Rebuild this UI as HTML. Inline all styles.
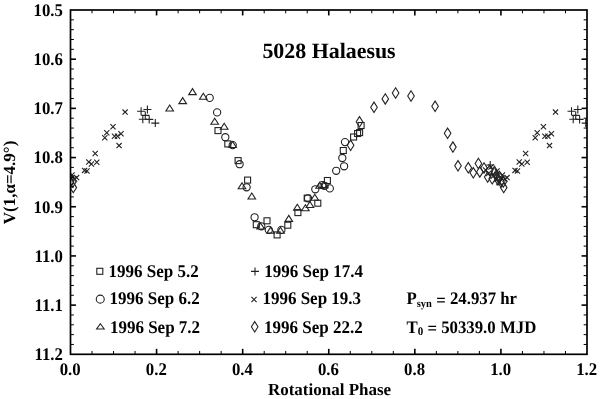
<!DOCTYPE html>
<html><head><meta charset="utf-8"><style>
html,body{margin:0;padding:0;background:#fff;}
body{width:600px;height:399px;overflow:hidden;}
svg{display:block;will-change:transform;}
text{font-family:"Liberation Serif",serif;font-weight:bold;fill:#000;text-rendering:geometricPrecision;}
</style></head><body>
<svg width="600" height="399" viewBox="0 0 600 399">
<rect width="600" height="399" fill="#fff"/>
<defs><clipPath id="cp"><rect x="70.5" y="10.0" width="516.5" height="344.3"/></clipPath></defs>
<g clip-path="url(#cp)" fill="none" stroke="#222" stroke-width="1.1">
<path d="M72.00 176.40L77.20 181.60M72.00 181.60L77.20 176.40"/>
<path d="M502.42 176.40L507.62 181.60M502.42 181.60L507.62 176.40"/>
<path d="M74.00 175.00L79.20 180.20M74.00 180.20L79.20 175.00"/>
<path d="M504.42 175.00L509.62 180.20M504.42 180.20L509.62 175.00"/>
<path d="M69.40 172.40L74.60 177.60M69.40 177.60L74.60 172.40"/>
<path d="M499.82 172.40L505.02 177.60M499.82 177.60L505.02 172.40"/>
<path d="M72.80 176.80L76.10 182.00L72.80 187.20L69.50 182.00Z"/>
<path d="M503.22 176.80L506.52 182.00L503.22 187.20L499.92 182.00Z"/>
<path d="M73.30 182.40L76.60 187.60L73.30 192.80L70.00 187.60Z"/>
<path d="M503.72 182.40L507.02 187.60L503.72 192.80L500.42 187.60Z"/>
<path d="M82.00 167.80L87.20 173.00M82.00 173.00L87.20 167.80"/>
<path d="M512.42 167.80L517.62 173.00M512.42 173.00L517.62 167.80"/>
<path d="M84.40 168.40L89.60 173.60M84.40 173.60L89.60 168.40"/>
<path d="M514.82 168.40L520.02 173.60M514.82 173.60L520.02 168.40"/>
<path d="M86.20 159.40L91.40 164.60M86.20 164.60L91.40 159.40"/>
<path d="M516.62 159.40L521.82 164.60M516.62 164.60L521.82 159.40"/>
<path d="M88.80 161.40L94.00 166.60M88.80 166.60L94.00 161.40"/>
<path d="M519.22 161.40L524.42 166.60M519.22 166.60L524.42 161.40"/>
<path d="M94.20 159.70L99.40 164.90M94.20 164.90L99.40 159.70"/>
<path d="M524.62 159.70L529.82 164.90M524.62 164.90L529.82 159.70"/>
<path d="M92.60 150.90L97.80 156.10M92.60 156.10L97.80 150.90"/>
<path d="M523.02 150.90L528.22 156.10M523.02 156.10L528.22 150.90"/>
<path d="M102.20 135.20L107.40 140.40M102.20 140.40L107.40 135.20"/>
<path d="M532.62 135.20L537.82 140.40M532.62 140.40L537.82 135.20"/>
<path d="M104.20 130.20L109.40 135.40M104.20 135.40L109.40 130.20"/>
<path d="M534.62 130.20L539.82 135.40M534.62 135.40L539.82 130.20"/>
<path d="M110.40 124.20L115.60 129.40M110.40 129.40L115.60 124.20"/>
<path d="M540.82 124.20L546.02 129.40M540.82 129.40L546.02 124.20"/>
<path d="M111.90 133.60L117.10 138.80M111.90 138.80L117.10 133.60"/>
<path d="M542.32 133.60L547.52 138.80M542.32 138.80L547.52 133.60"/>
<path d="M114.90 133.60L120.10 138.80M114.90 138.80L120.10 133.60"/>
<path d="M545.32 133.60L550.52 138.80M545.32 138.80L550.52 133.60"/>
<path d="M118.40 131.10L123.60 136.30M118.40 136.30L123.60 131.10"/>
<path d="M548.82 131.10L554.02 136.30M548.82 136.30L554.02 131.10"/>
<path d="M116.50 143.00L121.70 148.20M116.50 148.20L121.70 143.00"/>
<path d="M546.92 143.00L552.12 148.20M546.92 148.20L552.12 143.00"/>
<path d="M122.50 109.50L127.70 114.70M122.50 114.70L127.70 109.50"/>
<path d="M552.92 109.50L558.12 114.70M552.92 114.70L558.12 109.50"/>
<path d="M137.10 111.30H145.10M141.10 107.30V115.30"/>
<path d="M567.52 111.30H575.52M571.52 107.30V115.30"/>
<path d="M143.40 109.50H151.40M147.40 105.50V113.50"/>
<path d="M573.82 109.50H581.82M577.82 105.50V113.50"/>
<path d="M141.30 115.40H149.30M145.30 111.40V119.40"/>
<path d="M571.72 115.40H579.72M575.72 111.40V119.40"/>
<path d="M145.20 119.40H153.20M149.20 115.40V123.40"/>
<path d="M575.62 119.40H583.62M579.62 115.40V123.40"/>
<path d="M138.80 119.20H146.80M142.80 115.20V123.20"/>
<path d="M569.22 119.20H577.22M573.22 115.20V123.20"/>
<path d="M151.30 123.10H159.30M155.30 119.10V127.10"/>
<path d="M581.72 123.10H589.72M585.72 119.10V127.10"/>
<path d="M169.70 105.00L173.50 111.00L165.90 111.00Z"/>
<path d="M182.70 97.60L186.50 103.60L178.90 103.60Z"/>
<path d="M192.50 88.60L196.30 94.60L188.70 94.60Z"/>
<path d="M203.30 93.20L207.10 99.20L199.50 99.20Z"/>
<circle cx="209.70" cy="97.90" r="3.6"/>
<circle cx="217.10" cy="112.40" r="3.6"/>
<path d="M214.70 118.30L218.50 124.30L210.90 124.30Z"/>
<path d="M224.20 123.30L228.00 129.30L220.40 129.30Z"/>
<rect x="215.00" y="127.60" width="6.00" height="6.00"/>
<circle cx="225.30" cy="137.20" r="3.6"/>
<rect x="224.80" y="140.90" width="6.00" height="6.00"/>
<circle cx="232.70" cy="145.10" r="3.6"/>
<path d="M232.60 141.50L236.40 147.50L228.80 147.50Z"/>
<rect x="235.10" y="157.60" width="6.00" height="6.00"/>
<circle cx="239.60" cy="164.20" r="3.6"/>
<rect x="244.60" y="177.10" width="6.00" height="6.00"/>
<circle cx="246.60" cy="187.30" r="3.6"/>
<path d="M242.00 182.80L245.80 188.80L238.20 188.80Z"/>
<path d="M251.80 193.00L255.60 199.00L248.00 199.00Z"/>
<circle cx="254.60" cy="217.30" r="3.6"/>
<rect x="264.00" y="217.80" width="6.00" height="6.00"/>
<rect x="253.30" y="221.70" width="6.00" height="6.00"/>
<path d="M260.60 223.00L264.40 229.00L256.80 229.00Z"/>
<circle cx="261.30" cy="226.30" r="3.6"/>
<circle cx="268.80" cy="229.90" r="3.6"/>
<path d="M270.60 227.10L274.40 233.10L266.80 233.10Z"/>
<rect x="274.10" y="231.90" width="6.00" height="6.00"/>
<circle cx="281.40" cy="229.90" r="3.6"/>
<path d="M280.50 227.20L284.30 233.20L276.70 233.20Z"/>
<rect x="284.80" y="222.20" width="6.00" height="6.00"/>
<path d="M288.80 215.40L292.60 221.40L285.00 221.40Z"/>
<path d="M297.30 204.30L301.10 210.30L293.50 210.30Z"/>
<rect x="294.90" y="209.60" width="6.00" height="6.00"/>
<path d="M305.40 204.70L309.20 210.70L301.60 210.70Z"/>
<path d="M309.90 201.50L313.70 207.50L306.10 207.50Z"/>
<rect x="304.20" y="195.10" width="6.00" height="6.00"/>
<circle cx="308.00" cy="198.30" r="3.6"/>
<path d="M314.80 194.30L318.60 200.30L311.00 200.30Z"/>
<rect x="314.80" y="200.20" width="6.00" height="6.00"/>
<circle cx="315.30" cy="189.30" r="3.6"/>
<path d="M319.60 182.30L323.40 188.30L315.80 188.30Z"/>
<circle cx="322.30" cy="185.10" r="3.6"/>
<circle cx="324.60" cy="185.80" r="3.6"/>
<path d="M324.20 181.60L328.00 187.60L320.40 187.60Z"/>
<rect x="324.40" y="177.50" width="6.00" height="6.00"/>
<circle cx="329.80" cy="188.40" r="3.6"/>
<circle cx="336.20" cy="170.80" r="3.6"/>
<circle cx="344.10" cy="166.30" r="3.6"/>
<circle cx="342.30" cy="158.00" r="3.6"/>
<rect x="340.30" y="147.50" width="6.00" height="6.00"/>
<circle cx="345.00" cy="142.10" r="3.6"/>
<path d="M350.60 140.10L353.90 145.30L350.60 150.50L347.30 145.30Z"/>
<rect x="350.60" y="134.00" width="6.00" height="6.00"/>
<rect x="354.60" y="130.50" width="6.00" height="6.00"/>
<rect x="356.60" y="129.60" width="6.00" height="6.00"/>
<rect x="358.10" y="122.50" width="6.00" height="6.00"/>
<path d="M359.50 116.60L362.80 121.80L359.50 127.00L356.20 121.80Z"/>
<path d="M374.00 102.10L377.30 107.30L374.00 112.50L370.70 107.30Z"/>
<path d="M385.30 93.70L388.60 98.90L385.30 104.10L382.00 98.90Z"/>
<path d="M395.60 87.80L398.90 93.00L395.60 98.20L392.30 93.00Z"/>
<path d="M411.00 90.80L414.30 96.00L411.00 101.20L407.70 96.00Z"/>
<path d="M435.10 101.10L438.40 106.30L435.10 111.50L431.80 106.30Z"/>
<path d="M447.60 128.10L450.90 133.30L447.60 138.50L444.30 133.30Z"/>
<path d="M452.90 141.90L456.20 147.10L452.90 152.30L449.60 147.10Z"/>
<path d="M458.00 160.60L461.30 165.80L458.00 171.00L454.70 165.80Z"/>
<path d="M468.30 162.60L471.60 167.80L468.30 173.00L465.00 167.80Z"/>
<path d="M473.30 167.60L476.60 172.80L473.30 178.00L470.00 172.80Z"/>
<path d="M478.40 158.30L481.70 163.50L478.40 168.70L475.10 163.50Z"/>
<path d="M479.80 166.70L483.10 171.90L479.80 177.10L476.50 171.90Z"/>
<path d="M484.00 162.80L487.30 168.00L484.00 173.20L480.70 168.00Z"/>
<path d="M487.70 171.80L491.00 177.00L487.70 182.20L484.40 177.00Z"/>
<path d="M489.50 165.30L492.80 170.50L489.50 175.70L486.20 170.50Z"/>
<path d="M492.20 173.60L495.50 178.80L492.20 184.00L488.90 178.80Z"/>
<path d="M494.50 166.40L497.80 171.60L494.50 176.80L491.20 171.60Z"/>
<path d="M64.08 166.40L67.38 171.60L64.08 176.80L60.78 171.60Z"/>
<path d="M496.00 170.30L499.30 175.50L496.00 180.70L492.70 175.50Z"/>
<path d="M65.58 170.30L68.88 175.50L65.58 180.70L62.28 175.50Z"/>
<path d="M498.00 174.80L501.30 180.00L498.00 185.20L494.70 180.00Z"/>
<path d="M67.58 174.80L70.88 180.00L67.58 185.20L64.28 180.00Z"/>
<path d="M499.50 171.30L502.80 176.50L499.50 181.70L496.20 176.50Z"/>
<path d="M69.08 171.30L72.38 176.50L69.08 181.70L65.78 176.50Z"/>
<path d="M501.00 176.80L504.30 182.00L501.00 187.20L497.70 182.00Z"/>
<path d="M70.58 176.80L73.88 182.00L70.58 187.20L67.28 182.00Z"/>
<path d="M482.90 167.40L488.10 172.60M482.90 172.60L488.10 167.40"/>
<path d="M485.90 170.90L491.10 176.10M485.90 176.10L491.10 170.90"/>
<path d="M488.40 164.40L493.60 169.60M488.40 169.60L493.60 164.40"/>
<path d="M490.90 173.40L496.10 178.60M490.90 178.60L496.10 173.40"/>
<path d="M60.48 173.40L65.68 178.60M60.48 178.60L65.68 173.40"/>
<path d="M493.90 176.40L499.10 181.60M493.90 181.60L499.10 176.40"/>
<path d="M63.48 176.40L68.68 181.60M63.48 181.60L68.68 176.40"/>
<path d="M496.40 179.90L501.60 185.10M496.40 185.10L501.60 179.90"/>
<path d="M65.98 179.90L71.18 185.10M65.98 185.10L71.18 179.90"/>
<path d="M498.90 175.40L504.10 180.60M498.90 180.60L504.10 175.40"/>
<path d="M68.48 175.40L73.68 180.60M68.48 180.60L73.68 175.40"/>
<path d="M494.40 168.40L499.60 173.60M494.40 173.60L499.60 168.40"/>
<path d="M63.98 168.40L69.18 173.60M63.98 173.60L69.18 168.40"/>
<path d="M486.20 165.00H494.20M490.20 161.00V169.00"/>
<path d="M493.00 174.00H501.00M497.00 170.00V178.00"/>
<path d="M62.58 174.00H70.58M66.58 170.00V178.00"/>
</g>
<g stroke="#000" fill="none">
<line x1="92.02" y1="354.30" x2="92.02" y2="350.95" stroke-width="1.0"/>
<line x1="92.02" y1="10.00" x2="92.02" y2="13.35" stroke-width="1.0"/>
<line x1="113.54" y1="354.30" x2="113.54" y2="350.95" stroke-width="1.0"/>
<line x1="113.54" y1="10.00" x2="113.54" y2="13.35" stroke-width="1.0"/>
<line x1="135.06" y1="354.30" x2="135.06" y2="350.95" stroke-width="1.0"/>
<line x1="135.06" y1="10.00" x2="135.06" y2="13.35" stroke-width="1.0"/>
<line x1="156.58" y1="354.30" x2="156.58" y2="348.85" stroke-width="1.6"/>
<line x1="156.58" y1="10.00" x2="156.58" y2="15.45" stroke-width="1.6"/>
<line x1="178.10" y1="354.30" x2="178.10" y2="350.95" stroke-width="1.0"/>
<line x1="178.10" y1="10.00" x2="178.10" y2="13.35" stroke-width="1.0"/>
<line x1="199.63" y1="354.30" x2="199.63" y2="350.95" stroke-width="1.0"/>
<line x1="199.63" y1="10.00" x2="199.63" y2="13.35" stroke-width="1.0"/>
<line x1="221.15" y1="354.30" x2="221.15" y2="350.95" stroke-width="1.0"/>
<line x1="221.15" y1="10.00" x2="221.15" y2="13.35" stroke-width="1.0"/>
<line x1="242.67" y1="354.30" x2="242.67" y2="348.85" stroke-width="1.6"/>
<line x1="242.67" y1="10.00" x2="242.67" y2="15.45" stroke-width="1.6"/>
<line x1="264.19" y1="354.30" x2="264.19" y2="350.95" stroke-width="1.0"/>
<line x1="264.19" y1="10.00" x2="264.19" y2="13.35" stroke-width="1.0"/>
<line x1="285.71" y1="354.30" x2="285.71" y2="350.95" stroke-width="1.0"/>
<line x1="285.71" y1="10.00" x2="285.71" y2="13.35" stroke-width="1.0"/>
<line x1="307.23" y1="354.30" x2="307.23" y2="350.95" stroke-width="1.0"/>
<line x1="307.23" y1="10.00" x2="307.23" y2="13.35" stroke-width="1.0"/>
<line x1="328.75" y1="354.30" x2="328.75" y2="348.85" stroke-width="1.6"/>
<line x1="328.75" y1="10.00" x2="328.75" y2="15.45" stroke-width="1.6"/>
<line x1="350.27" y1="354.30" x2="350.27" y2="350.95" stroke-width="1.0"/>
<line x1="350.27" y1="10.00" x2="350.27" y2="13.35" stroke-width="1.0"/>
<line x1="371.79" y1="354.30" x2="371.79" y2="350.95" stroke-width="1.0"/>
<line x1="371.79" y1="10.00" x2="371.79" y2="13.35" stroke-width="1.0"/>
<line x1="393.31" y1="354.30" x2="393.31" y2="350.95" stroke-width="1.0"/>
<line x1="393.31" y1="10.00" x2="393.31" y2="13.35" stroke-width="1.0"/>
<line x1="414.83" y1="354.30" x2="414.83" y2="348.85" stroke-width="1.6"/>
<line x1="414.83" y1="10.00" x2="414.83" y2="15.45" stroke-width="1.6"/>
<line x1="436.35" y1="354.30" x2="436.35" y2="350.95" stroke-width="1.0"/>
<line x1="436.35" y1="10.00" x2="436.35" y2="13.35" stroke-width="1.0"/>
<line x1="457.88" y1="354.30" x2="457.88" y2="350.95" stroke-width="1.0"/>
<line x1="457.88" y1="10.00" x2="457.88" y2="13.35" stroke-width="1.0"/>
<line x1="479.40" y1="354.30" x2="479.40" y2="350.95" stroke-width="1.0"/>
<line x1="479.40" y1="10.00" x2="479.40" y2="13.35" stroke-width="1.0"/>
<line x1="500.92" y1="354.30" x2="500.92" y2="348.85" stroke-width="1.6"/>
<line x1="500.92" y1="10.00" x2="500.92" y2="15.45" stroke-width="1.6"/>
<line x1="522.44" y1="354.30" x2="522.44" y2="350.95" stroke-width="1.0"/>
<line x1="522.44" y1="10.00" x2="522.44" y2="13.35" stroke-width="1.0"/>
<line x1="543.96" y1="354.30" x2="543.96" y2="350.95" stroke-width="1.0"/>
<line x1="543.96" y1="10.00" x2="543.96" y2="13.35" stroke-width="1.0"/>
<line x1="565.48" y1="354.30" x2="565.48" y2="350.95" stroke-width="1.0"/>
<line x1="565.48" y1="10.00" x2="565.48" y2="13.35" stroke-width="1.0"/>
<line x1="70.50" y1="19.84" x2="73.85" y2="19.84" stroke-width="1.0"/>
<line x1="587.00" y1="19.84" x2="583.65" y2="19.84" stroke-width="1.0"/>
<line x1="70.50" y1="29.67" x2="73.85" y2="29.67" stroke-width="1.0"/>
<line x1="587.00" y1="29.67" x2="583.65" y2="29.67" stroke-width="1.0"/>
<line x1="70.50" y1="39.51" x2="73.85" y2="39.51" stroke-width="1.0"/>
<line x1="587.00" y1="39.51" x2="583.65" y2="39.51" stroke-width="1.0"/>
<line x1="70.50" y1="49.35" x2="73.85" y2="49.35" stroke-width="1.0"/>
<line x1="587.00" y1="49.35" x2="583.65" y2="49.35" stroke-width="1.0"/>
<line x1="70.50" y1="59.19" x2="75.95" y2="59.19" stroke-width="1.6"/>
<line x1="587.00" y1="59.19" x2="581.55" y2="59.19" stroke-width="1.6"/>
<line x1="70.50" y1="69.02" x2="73.85" y2="69.02" stroke-width="1.0"/>
<line x1="587.00" y1="69.02" x2="583.65" y2="69.02" stroke-width="1.0"/>
<line x1="70.50" y1="78.86" x2="73.85" y2="78.86" stroke-width="1.0"/>
<line x1="587.00" y1="78.86" x2="583.65" y2="78.86" stroke-width="1.0"/>
<line x1="70.50" y1="88.70" x2="73.85" y2="88.70" stroke-width="1.0"/>
<line x1="587.00" y1="88.70" x2="583.65" y2="88.70" stroke-width="1.0"/>
<line x1="70.50" y1="98.53" x2="73.85" y2="98.53" stroke-width="1.0"/>
<line x1="587.00" y1="98.53" x2="583.65" y2="98.53" stroke-width="1.0"/>
<line x1="70.50" y1="108.37" x2="75.95" y2="108.37" stroke-width="1.6"/>
<line x1="587.00" y1="108.37" x2="581.55" y2="108.37" stroke-width="1.6"/>
<line x1="70.50" y1="118.21" x2="73.85" y2="118.21" stroke-width="1.0"/>
<line x1="587.00" y1="118.21" x2="583.65" y2="118.21" stroke-width="1.0"/>
<line x1="70.50" y1="128.05" x2="73.85" y2="128.05" stroke-width="1.0"/>
<line x1="587.00" y1="128.05" x2="583.65" y2="128.05" stroke-width="1.0"/>
<line x1="70.50" y1="137.88" x2="73.85" y2="137.88" stroke-width="1.0"/>
<line x1="587.00" y1="137.88" x2="583.65" y2="137.88" stroke-width="1.0"/>
<line x1="70.50" y1="147.72" x2="73.85" y2="147.72" stroke-width="1.0"/>
<line x1="587.00" y1="147.72" x2="583.65" y2="147.72" stroke-width="1.0"/>
<line x1="70.50" y1="157.56" x2="75.95" y2="157.56" stroke-width="1.6"/>
<line x1="587.00" y1="157.56" x2="581.55" y2="157.56" stroke-width="1.6"/>
<line x1="70.50" y1="167.39" x2="73.85" y2="167.39" stroke-width="1.0"/>
<line x1="587.00" y1="167.39" x2="583.65" y2="167.39" stroke-width="1.0"/>
<line x1="70.50" y1="177.23" x2="73.85" y2="177.23" stroke-width="1.0"/>
<line x1="587.00" y1="177.23" x2="583.65" y2="177.23" stroke-width="1.0"/>
<line x1="70.50" y1="187.07" x2="73.85" y2="187.07" stroke-width="1.0"/>
<line x1="587.00" y1="187.07" x2="583.65" y2="187.07" stroke-width="1.0"/>
<line x1="70.50" y1="196.91" x2="73.85" y2="196.91" stroke-width="1.0"/>
<line x1="587.00" y1="196.91" x2="583.65" y2="196.91" stroke-width="1.0"/>
<line x1="70.50" y1="206.74" x2="75.95" y2="206.74" stroke-width="1.6"/>
<line x1="587.00" y1="206.74" x2="581.55" y2="206.74" stroke-width="1.6"/>
<line x1="70.50" y1="216.58" x2="73.85" y2="216.58" stroke-width="1.0"/>
<line x1="587.00" y1="216.58" x2="583.65" y2="216.58" stroke-width="1.0"/>
<line x1="70.50" y1="226.42" x2="73.85" y2="226.42" stroke-width="1.0"/>
<line x1="587.00" y1="226.42" x2="583.65" y2="226.42" stroke-width="1.0"/>
<line x1="70.50" y1="236.25" x2="73.85" y2="236.25" stroke-width="1.0"/>
<line x1="587.00" y1="236.25" x2="583.65" y2="236.25" stroke-width="1.0"/>
<line x1="70.50" y1="246.09" x2="73.85" y2="246.09" stroke-width="1.0"/>
<line x1="587.00" y1="246.09" x2="583.65" y2="246.09" stroke-width="1.0"/>
<line x1="70.50" y1="255.93" x2="75.95" y2="255.93" stroke-width="1.6"/>
<line x1="587.00" y1="255.93" x2="581.55" y2="255.93" stroke-width="1.6"/>
<line x1="70.50" y1="265.77" x2="73.85" y2="265.77" stroke-width="1.0"/>
<line x1="587.00" y1="265.77" x2="583.65" y2="265.77" stroke-width="1.0"/>
<line x1="70.50" y1="275.60" x2="73.85" y2="275.60" stroke-width="1.0"/>
<line x1="587.00" y1="275.60" x2="583.65" y2="275.60" stroke-width="1.0"/>
<line x1="70.50" y1="285.44" x2="73.85" y2="285.44" stroke-width="1.0"/>
<line x1="587.00" y1="285.44" x2="583.65" y2="285.44" stroke-width="1.0"/>
<line x1="70.50" y1="295.28" x2="73.85" y2="295.28" stroke-width="1.0"/>
<line x1="587.00" y1="295.28" x2="583.65" y2="295.28" stroke-width="1.0"/>
<line x1="70.50" y1="305.11" x2="75.95" y2="305.11" stroke-width="1.6"/>
<line x1="587.00" y1="305.11" x2="581.55" y2="305.11" stroke-width="1.6"/>
<line x1="70.50" y1="314.95" x2="73.85" y2="314.95" stroke-width="1.0"/>
<line x1="587.00" y1="314.95" x2="583.65" y2="314.95" stroke-width="1.0"/>
<line x1="70.50" y1="324.79" x2="73.85" y2="324.79" stroke-width="1.0"/>
<line x1="587.00" y1="324.79" x2="583.65" y2="324.79" stroke-width="1.0"/>
<line x1="70.50" y1="334.63" x2="73.85" y2="334.63" stroke-width="1.0"/>
<line x1="587.00" y1="334.63" x2="583.65" y2="334.63" stroke-width="1.0"/>
<line x1="70.50" y1="344.46" x2="73.85" y2="344.46" stroke-width="1.0"/>
<line x1="587.00" y1="344.46" x2="583.65" y2="344.46" stroke-width="1.0"/>
<rect x="70.5" y="10.0" width="516.5" height="344.3" stroke-width="1.7"/>
</g>
<g font-size="17">
<text transform="translate(62.90,15.80) scale(1,1.06)" font-size="16.8" text-anchor="end">10.5</text>
<text transform="translate(62.90,64.99) scale(1,1.06)" font-size="16.8" text-anchor="end">10.6</text>
<text transform="translate(62.90,114.17) scale(1,1.06)" font-size="16.8" text-anchor="end">10.7</text>
<text transform="translate(62.90,163.36) scale(1,1.06)" font-size="16.8" text-anchor="end">10.8</text>
<text transform="translate(62.90,212.54) scale(1,1.06)" font-size="16.8" text-anchor="end">10.9</text>
<text transform="translate(62.90,261.73) scale(1,1.06)" font-size="16.8" text-anchor="end">11.0</text>
<text transform="translate(62.90,310.91) scale(1,1.06)" font-size="16.8" text-anchor="end">11.1</text>
<text transform="translate(62.90,360.10) scale(1,1.06)" font-size="16.8" text-anchor="end">11.2</text>
<text transform="translate(70.20,374.60) scale(1,1.06)" font-size="16.8" text-anchor="middle">0.0</text>
<text transform="translate(156.28,374.60) scale(1,1.06)" font-size="16.8" text-anchor="middle">0.2</text>
<text transform="translate(242.37,374.60) scale(1,1.06)" font-size="16.8" text-anchor="middle">0.4</text>
<text transform="translate(328.45,374.60) scale(1,1.06)" font-size="16.8" text-anchor="middle">0.6</text>
<text transform="translate(414.53,374.60) scale(1,1.06)" font-size="16.8" text-anchor="middle">0.8</text>
<text transform="translate(500.62,374.60) scale(1,1.06)" font-size="16.8" text-anchor="middle">1.0</text>
<text transform="translate(586.70,374.60) scale(1,1.06)" font-size="16.8" text-anchor="middle">1.2</text>
</g>
<text transform="translate(329.00,57.90) scale(1,1.0)" font-size="21.9" text-anchor="middle">5028 Halaesus</text>
<text transform="translate(329.50,394.50) scale(1,1.0)" font-size="17" text-anchor="middle">Rotational Phase</text>
<text transform="translate(14.8,182.5) rotate(-90)" font-size="17" text-anchor="middle">V(1,&#945;=4.9&#176;)</text>
<g fill="none" stroke="#222" stroke-width="1.1">
<rect x="96.8" y="268.3" width="6.0" height="6.0"/>
<circle cx="100.25" cy="299.15" r="4.0"/>
<path d="M100.4 323.7L104.2 329.0L96.6 329.0Z"/>
<path d="M251.00 271.40H259.00M255.00 267.40V275.40"/>
<path d="M251.40 296.90L256.60 302.10M251.40 302.10L256.60 296.90"/>
<path d="M254.70 321.60L258.00 326.80L254.70 332.00L251.40 326.80Z"/>
</g>
<g>
<text transform="translate(108.60,276.70) scale(1,1.05)" font-size="17">1996 Sep 5.2</text>
<text transform="translate(109.50,304.40) scale(1,1.05)" font-size="17">1996 Sep 6.2</text>
<text transform="translate(109.90,332.60) scale(1,1.05)" font-size="17">1996 Sep 7.2</text>
<text transform="translate(264.30,276.70) scale(1,1.05)" font-size="17">1996 Sep 17.4</text>
<text transform="translate(262.40,304.40) scale(1,1.05)" font-size="17">1996 Sep 19.3</text>
<text transform="translate(264.00,332.60) scale(1,1.05)" font-size="17">1996 Sep 22.2</text>
<text transform="translate(406.50,304.40) scale(1,1.05)" font-size="16.8">P<tspan font-size="10.5" dy="2.8">syn</tspan><tspan dy="-1.5"> =</tspan><tspan dy="-1.3"> 24.937 hr</tspan></text>
<text transform="translate(406.50,332.60) scale(1,1.05)" font-size="16.8">T<tspan font-size="11" dy="2.4">0</tspan><tspan dy="-1.4"> =</tspan><tspan dy="-1.0"> 50339.0 MJD</tspan></text>
</g>
</svg>
</body></html>
